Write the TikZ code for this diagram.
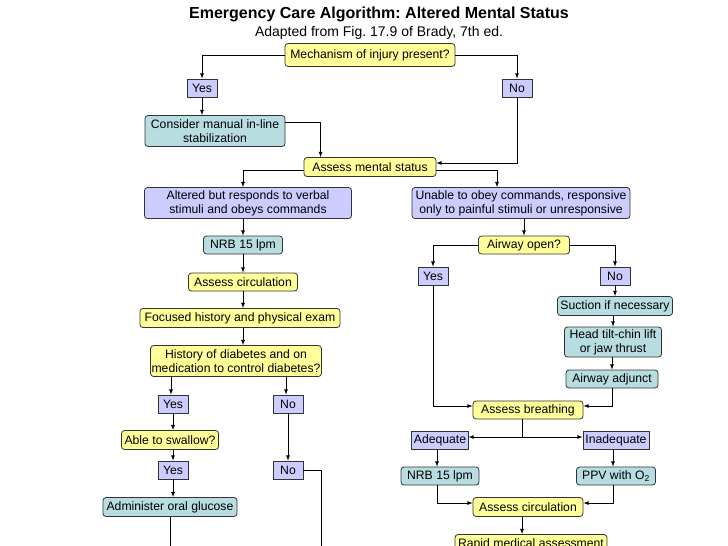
\documentclass[tikz,border=0pt]{standalone}
\usepackage{fontspec}
\setmainfont{Liberation Sans}
\frenchspacing
\definecolor{qyellow}{HTML}{FFFF99}
\definecolor{qpurple}{HTML}{CCCCFF}
\definecolor{qteal}{HTML}{B7DDE0}
\definecolor{qedge}{HTML}{333333}
\begin{document}
\begin{tikzpicture}[
    x=1pt, y=-1pt,
    % Box styles
    box/.style={draw=qedge, line width=0.8pt, align=center, inner xsep=2pt, inner ysep=1pt,
        font=\fontsize{12.2}{14}\selectfont, minimum height=18},
    askbox/.style={box, fill=qyellow, rounded corners=3pt},
    actbox/.style={box, fill=qteal, rounded corners=3pt},
    statebox/.style={box, fill=qpurple, rounded corners=3pt},
    choice/.style={box, fill=qpurple, minimum width=30},
    % Connectors
    arr/.style={-latex, line width=0.8pt, black},
]
\useasboundingbox (0,0) rectangle (728,546);

% Title
\node[font=\fontsize{16}{18}\selectfont\bfseries] (title) at (379,14) {Emergency Care Algorithm: Altered Mental Status};
\node[font=\fontsize{14}{16}\selectfont] (subtitle) at (379,33) {Adapted from Fig. 17.9 of Brady, 7th ed.};

% === TOP ===
\node[askbox, minimum width=170, minimum height=23] (moi) at (370,55) {Mechanism of injury present?};
\node[choice] (yes1) at (202,88) {Yes};
\node[choice] (no1) at (517,88) {No};
\node[actbox, minimum width=140, minimum height=31] (cons) at (215,131) {Consider manual in-line\\stabilization};
\node[askbox, minimum width=132, minimum height=19] (ams) at (370,167) {Assess mental status};
\node[statebox, minimum width=207, minimum height=31] (alt) at (248,203) {Altered but responds to verbal\\stimuli and obeys commands};
\node[statebox, minimum width=218, minimum height=31] (unb) at (521,203) {Unable to obey commands, responsive\\only to painful stimuli or unresponsive};

% === LEFT BRANCH ===
\node[actbox, minimum width=79] (nrb1) at (243,245) {NRB 15 lpm};
\node[askbox, minimum width=109] (circ1) at (243,282) {Assess circulation};
\node[askbox, minimum width=200, minimum height=19] (foc) at (240,318) {Focused history and physical exam};
\node[askbox, minimum width=170, minimum height=31, inner xsep=1pt] (hist) at (236,361) {History of diabetes and on\\medication to control diabetes?};
\node[choice] (yes3) at (173,404) {Yes};
\node[choice] (no3) at (288,404) {No};
\node[askbox, minimum width=97, minimum height=19] (swal) at (170,440) {Able to swallow?};
\node[choice] (yes4) at (173,470) {Yes};
\node[choice] (no4) at (288,470) {No};
\node[actbox, minimum width=134, minimum height=19] (gluc) at (170,507) {Administer oral glucose};
\coordinate (endL) at (171,560);
\coordinate (endR) at (321,560);

% === RIGHT BRANCH ===
\node[askbox, minimum width=91] (air) at (524,245) {Airway open?};
\node[choice] (yes2) at (433,276) {Yes};
\node[choice] (no2) at (615,276) {No};
\node[actbox, minimum width=115, minimum height=19] (suc) at (615,306) {Suction if necessary};
\node[actbox, minimum width=97, minimum height=30] (head) at (613,342) {Head tilt-chin lift\\or jaw thrust};
\node[actbox, minimum width=92] (adj) at (612,379) {Airway adjunct};
\node[askbox, minimum width=110] (brt) at (528,410) {Assess breathing};
\node[choice, minimum width=55] (ade) at (440,440) {Adequate};
\node[choice, minimum width=66] (ina) at (616,440) {Inadequate};
\node[actbox, minimum width=78] (nrb2) at (440,476) {NRB 15 lpm};
\node[actbox, minimum width=79] (ppv) at (616,476) {PPV with O\textsubscript{2}};
\node[askbox, minimum width=110, minimum height=19] (circ2) at (528,507) {Assess circulation};
\node[askbox, minimum width=152, minimum height=19] (rapid) at (531,544) {Rapid medical assessment};

% === CONNECTORS ===
\draw[arr] (moi.west) -| (yes1.north);
\draw[arr] (moi.east) -| (no1.north);
\draw[arr] (yes1.south) -- (yes1.south |- cons.north);
\draw[arr] ([yshift=9pt]cons.east) -| ([xshift=17pt]ams.north west);
\draw[arr] (no1.south) |- ([yshift=4pt]ams.east);
\draw[arr] ([yshift=-3pt]ams.west) -| ([xshift=-5pt]alt.north);
\draw[arr] ([yshift=-3pt]ams.east) -| ([xshift=-24pt]unb.north);

% left
\draw[arr] (nrb1.north |- alt.south) -- (nrb1.north);
\draw[arr] (nrb1.south) -- (circ1.north);
\draw[arr] (circ1.south) -- (circ1.south |- foc.north);
\draw[arr] (circ1.south |- foc.south) -- (circ1.south |- hist.north);
\draw[arr] ([xshift=-2pt]yes3.north |- hist.south) -- ([xshift=-2pt]yes3.north);
\draw[arr] ([xshift=-2pt]no3.north |- hist.south) -- ([xshift=-2pt]no3.north);
\draw[arr] (yes3.south) -- (yes3.south |- swal.north);
\draw[arr] (yes3.south |- swal.south) -- (yes4.north);
\draw[arr] (yes4.south) -- (yes4.south |- gluc.north);
\draw[arr] (no3.south) -- (no4.north);
\draw[line width=0.8pt] (gluc.south) -- (gluc.south |- endL);
\draw[line width=0.8pt] (no4.east) -| (endR);

% right
\draw[arr] (air.north |- unb.south) -- (air.north);
\draw[arr] (air.west) -| (yes2.north);
\draw[arr] (air.east) -| (no2.north);
\draw[arr] (no2.south) -- (suc.north);
\draw[arr] (head.north |- suc.south) -- (head.north);
\draw[arr] (adj.north |- head.south) -- (adj.north);
\draw[arr] (yes2.south) |- ([yshift=4pt]brt.west);
\draw[arr] (adj.south) |- ([yshift=4pt]brt.east);
\draw[arr] ([xshift=-6pt]brt.south) |- ([yshift=3pt]ade.east);
\draw[arr] ([xshift=-6pt]brt.south) |- ([yshift=3pt]ina.west);
\draw[arr] ([xshift=-3pt]ade.south) -- ([xshift=-3pt]nrb2.north);
\draw[arr] ([xshift=-3pt]ina.south) -- ([xshift=-3pt]ppv.north);
\draw[arr] ([xshift=-3pt]nrb2.south) |- ([yshift=4pt]circ2.west);
\draw[arr] ([xshift=-3pt]ppv.south) |- ([yshift=4pt]circ2.east);
\draw[arr] ([xshift=-6pt]circ2.south) -- ([xshift=-6pt]circ2.south |- rapid.north);

\end{tikzpicture}
\end{document}
